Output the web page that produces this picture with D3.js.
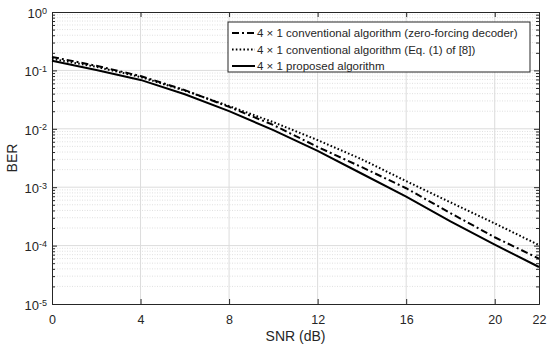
<!DOCTYPE html>
<html>
<head>
<meta charset="utf-8">
<script src="https://cdn.jsdelivr.net/npm/d3@7"></script>
<style>
    body { margin: 0; background: #fff; }
    svg text { font-family: "Liberation Sans", Arial, sans-serif; fill: #262626; }
</style>
</head>
<body>
<div id="root"></div>
<script>
"use strict";

/* ************************************* Data ******************************** */

const snr = [0, 2, 4, 6, 8, 10, 12, 14, 16, 18, 20, 22];

// 4x1 conventional algorithm (zero-forcing decoder)
const berZF = [0.17, 0.12, 0.080, 0.046, 0.0237, 0.0116, 0.0049, 0.0022, 0.00096, 0.00036, 0.000139, 0.00006];
// 4x1 conventional algorithm (Eq. (1) of [8])
const berEq = [0.158, 0.115, 0.077, 0.045, 0.0245, 0.013, 0.0064, 0.0030, 0.00127, 0.00055, 0.00024, 0.000102];
// 4x1 proposed algorithm
const berProp = [0.146, 0.102, 0.0687, 0.039, 0.0201, 0.0095, 0.0042, 0.0017, 0.00069, 0.00026, 0.000104, 0.000043];

const xTicks = [0, 4, 8, 12, 16, 20, 22];
const yTicks = [1e-5, 1e-4, 1e-3, 1e-2, 1e-1, 1];

const seriesNames = [
    "4 \u00d7 1 conventional algorithm (zero-forcing decoder)",
    "4 \u00d7 1 conventional algorithm (Eq. (1) of [8])",
    "4 \u00d7 1 proposed algorithm"
];

/* ************************************* Set up ******************************** */

const width = 550;
const height = 346;
const margin = { top: 12, right: 11, bottom: 42, left: 52 };
const drawWidth = width - margin.left - margin.right;
const drawHeight = height - margin.top - margin.bottom;

const axisColor = "#262626";
const gridColor = "#dcdcdc";

const dashes = ["7,3,2,3", "1.6,2.2", null];
const data = [berZF, berEq, berProp];

let svg = d3.select('#root')
    .append('svg')
    .attr('width', width)
    .attr('height', height);

let chartG = svg.append('g')
    .attr('transform', `translate(${margin.left},${margin.top})`);

/* ************************************* Scales ******************************** */

let xScale = d3.scaleLinear()
    .domain([0, 22])
    .range([0, drawWidth]);

let yScale = d3.scaleLog()
    .domain([1e-5, 1])
    .range([drawHeight, 0]);

// minor values 2..9 x 10^k
let minorY = [];
for (let k = -5; k < 0; k++) {
    for (let m = 2; m <= 9; m++) minorY.push(m * Math.pow(10, k));
}

/* ************************************* Grid ******************************** */

chartG.append('g').selectAll('line.minor')
    .data(minorY).enter().append('line')
    .attr('x1', 0).attr('x2', drawWidth)
    .attr('y1', d => yScale(d)).attr('y2', d => yScale(d))
    .attr('stroke', gridColor)
    .attr('stroke-width', 0.9)
    .attr('stroke-dasharray', '1,1.5');

chartG.append('g').selectAll('line.hmaj')
    .data(yTicks.slice(1, -1)).enter().append('line')
    .attr('x1', 0).attr('x2', drawWidth)
    .attr('y1', d => yScale(d)).attr('y2', d => yScale(d))
    .attr('stroke', gridColor)
    .attr('stroke-width', 1);

chartG.append('g').selectAll('line.vmaj')
    .data(xTicks.slice(1, -1)).enter().append('line')
    .attr('y1', 0).attr('y2', drawHeight)
    .attr('x1', d => xScale(d)).attr('x2', d => xScale(d))
    .attr('stroke', gridColor)
    .attr('stroke-width', 1);

/* ************************************* Axes ******************************** */

function styleAxis(g) {
    g.select('.domain').attr('stroke', axisColor);
    g.selectAll('.tick line').attr('stroke', axisColor);
    g.selectAll('.tick text').attr('fill', axisColor)
        .style('font-size', '12.5px');
}

let xAxis = d3.axisBottom(xScale).tickValues(xTicks).tickSizeInner(-5).tickSizeOuter(0).tickPadding(11);
let xTop = d3.axisTop(xScale).tickValues(xTicks).tickSizeInner(-5).tickSizeOuter(0).tickFormat('');
let yAxis = d3.axisLeft(yScale).tickValues(yTicks).tickSizeInner(-5).tickSizeOuter(0).tickFormat('');
let yRight = d3.axisRight(yScale).tickValues(yTicks).tickSizeInner(-5).tickSizeOuter(0).tickFormat('');
let yMinorL = d3.axisLeft(yScale).tickValues(minorY).tickSizeInner(-3).tickSizeOuter(0).tickFormat('');
let yMinorR = d3.axisRight(yScale).tickValues(minorY).tickSizeInner(-3).tickSizeOuter(0).tickFormat('');

chartG.append('g').attr('transform', `translate(0,${drawHeight})`).call(xAxis).call(styleAxis);
chartG.append('g').call(xTop).call(styleAxis);
chartG.append('g').call(yMinorL).call(styleAxis);
chartG.append('g').attr('transform', `translate(${drawWidth},0)`).call(yMinorR).call(styleAxis);
let yAxisG = chartG.append('g').call(yAxis).call(styleAxis);
chartG.append('g').attr('transform', `translate(${drawWidth},0)`).call(yRight).call(styleAxis);

// y tick labels as 10 with superscript exponent
yAxisG.selectAll('.tick').append('text')
    .attr('x', -5)
    .attr('dy', '0.4em')
    .attr('text-anchor', 'end')
    .style('font-size', '13px')
    .attr('fill', axisColor)
    .each(function (d) {
        let e = Math.round(Math.log10(d));
        let t = d3.select(this);
        t.append('tspan').text('10');
        t.append('tspan').attr('dy', '-0.45em').style('font-size', '9px').text(String(e));
    });

/* ************************************* Lines ******************************** */

let line = d3.line()
    .x((d, i) => xScale(snr[i]))
    .y(d => yScale(d));

chartG.selectAll('path.series')
    .data(data).enter().append('path')
    .attr('class', 'series')
    .attr('d', d => line(d))
    .attr('fill', 'none')
    .attr('stroke', '#000')
    .attr('stroke-width', 2)
    .attr('stroke-dasharray', (d, i) => dashes[i]);

/* ************************************* Labels ******************************** */

svg.append('text')
    .attr('x', margin.left + drawWidth / 2)
    .attr('y', 341)
    .attr('text-anchor', 'middle')
    .style('font-size', '14px')
    .text('SNR (dB)');

svg.append('text')
    .attr('transform', `translate(17,${margin.top + drawHeight / 2}) rotate(-90)`)
    .attr('text-anchor', 'middle')
    .style('font-size', '14px')
    .text('BER');

/* ************************************* Legend ******************************** */

let legend = svg.append('g').attr('transform', 'translate(228,22)');

legend.append('rect')
    .attr('width', 302).attr('height', 50)
    .attr('fill', '#fff')
    .attr('stroke', axisColor)
    .attr('stroke-width', 1);

let items = legend.selectAll('g.item')
    .data(seriesNames).enter().append('g')
    .attr('transform', (d, i) => `translate(0,${11 + i * 16.5})`);

items.append('line')
    .attr('x1', 4).attr('x2', 27)
    .attr('stroke', '#000').attr('stroke-width', 2)
    .attr('stroke-dasharray', (d, i) => dashes[i]);

items.append('text')
    .attr('x', 29)
    .attr('dy', '0.35em')
    .style('font-size', '11.5px')
    .text(d => d);
</script>
</body>
</html>
